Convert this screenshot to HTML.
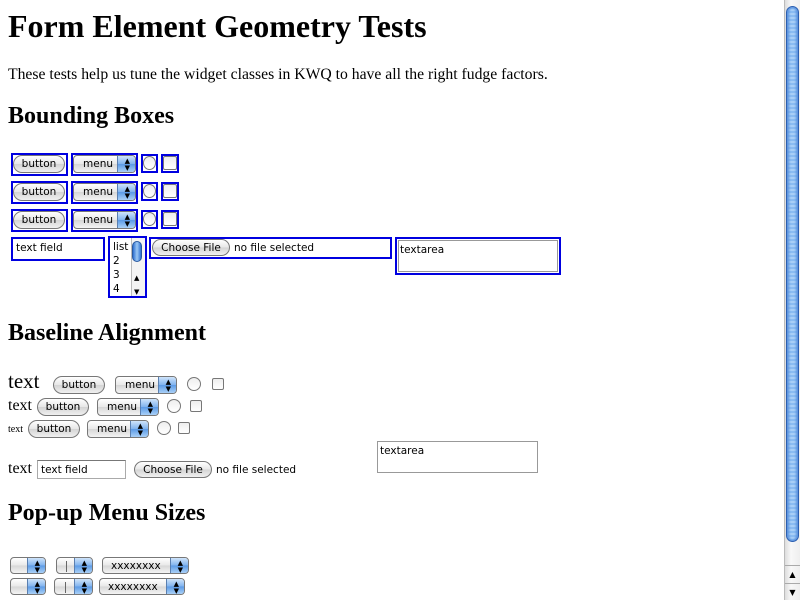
<!DOCTYPE html><html><head><style>
body{margin:0;width:800px;height:600px;background:#fff;position:relative;overflow:hidden;font-family:"Liberation Serif",serif}
.a{position:absolute}
.t{font-family:"DejaVu Sans",sans-serif;font-size:10.5px;color:#000;white-space:nowrap}
.btn{position:absolute;box-sizing:border-box;border:1px solid #777;border-radius:9px;background:linear-gradient(#fff,#e6e6e6 50%,#d4d4d4 51%,#f0f0f0);font-family:"DejaVu Sans",sans-serif;font-size:10.5px;text-align:center;line-height:17px}
.menu{position:absolute;box-sizing:border-box;border:1px solid #777;border-radius:4px;background:linear-gradient(#fff,#e8e8e8 50%,#d6d6d6 51%,#f4f4f4);font-family:"DejaVu Sans",sans-serif;font-size:10.5px;line-height:17px;padding-left:9px;overflow:hidden}
.menu:after{content:"";position:absolute;right:0;top:0;bottom:0;width:17px;background:linear-gradient(#cfe4fb,#7fb2ee 50%,#5b9ae6 51%,#a9d0f7);border-left:1px solid #5a7fb0}
.menu b{position:absolute;right:5px;top:-1px;font-size:7px;line-height:7px;z-index:2;font-weight:normal;padding-top:3px}
.rad{position:absolute;box-sizing:border-box;border:1px solid #777;border-radius:50%;background:linear-gradient(#eee,#fff)}
.chk{position:absolute;box-sizing:border-box;border:1px solid #777;border-radius:2px;background:linear-gradient(#eee,#fff)}
.bb{position:absolute;box-sizing:border-box;border:2px solid #0000e0}
h1{position:absolute;margin:0;font-size:32px;font-weight:bold}
h2{position:absolute;margin:0;font-size:24px;font-weight:bold}
</style></head><body>
<h1 style="left:8px;top:8px">Form Element Geometry Tests</h1>
<div class="a" style="left:8px;top:66px;font-size:15.7px">These tests help us tune the widget classes in KWQ to have all the right fudge factors.</div>
<h2 style="left:8px;top:103px">Bounding Boxes</h2>

<div class="bb" style="left:11px;top:153px;width:57px;height:23px"></div><div class="btn" style="left:13px;top:155px;width:52px;height:18px;line-height:17px">button</div>
<div class="bb" style="left:71px;top:153px;width:67px;height:23px"></div><div class="menu" style="left:73px;top:155px;width:63px;height:18px">menu<b>▲<br>▼</b></div>
<div class="bb" style="left:141px;top:154px;width:17px;height:19px"></div><div class="rad" style="left:143px;top:156px;width:13px;height:14px"></div>
<div class="bb" style="left:161px;top:154px;width:18px;height:19px"></div><div class="chk" style="left:163px;top:156px;width:14px;height:14px"></div>

<div class="bb" style="left:11px;top:181px;width:57px;height:23px"></div><div class="btn" style="left:13px;top:183px;width:52px;height:18px">button</div>
<div class="bb" style="left:71px;top:181px;width:67px;height:23px"></div><div class="menu" style="left:73px;top:183px;width:63px;height:18px">menu<b>▲<br>▼</b></div>
<div class="bb" style="left:141px;top:182px;width:17px;height:19px"></div><div class="rad" style="left:143px;top:184px;width:13px;height:14px"></div>
<div class="bb" style="left:161px;top:182px;width:18px;height:19px"></div><div class="chk" style="left:163px;top:184px;width:14px;height:14px"></div>

<div class="bb" style="left:11px;top:209px;width:57px;height:23px"></div><div class="btn" style="left:13px;top:211px;width:52px;height:18px">button</div>
<div class="bb" style="left:71px;top:209px;width:67px;height:23px"></div><div class="menu" style="left:73px;top:211px;width:63px;height:18px">menu<b>▲<br>▼</b></div>
<div class="bb" style="left:141px;top:210px;width:17px;height:19px"></div><div class="rad" style="left:143px;top:212px;width:13px;height:14px"></div>
<div class="bb" style="left:161px;top:210px;width:18px;height:19px"></div><div class="chk" style="left:163px;top:212px;width:14px;height:14px"></div>

<div class="bb" style="left:11px;top:237px;width:94px;height:24px"></div><div class="a t" style="left:16px;top:242px">text field</div>
<div class="bb" style="left:108px;top:236px;width:39px;height:62px"></div>
<div class="a t" style="left:113px;top:240px;line-height:14px">list<br>2<br>3<br>4</div>
<div class="a" style="left:131px;top:238px;width:13px;height:58px;border-left:1px solid #bbb;background:#f4f4f4"></div>
<div class="a" style="left:132px;top:241px;width:10px;height:21px;border-radius:5px;background:linear-gradient(90deg,#2d6fd0,#9cc8f5,#2d6fd0);border:1px solid #2a5aa0;box-sizing:border-box"></div>
<div class="a" style="left:134px;top:271px;font-size:7px;line-height:14px;font-family:'DejaVu Sans'">▲<br>▼</div>
<div class="bb" style="left:149px;top:237px;width:243px;height:22px"></div>
<div class="btn" style="left:152px;top:239px;width:78px;height:17px;line-height:16px">Choose File</div>
<div class="a t" style="left:234px;top:242px">no file selected</div>
<div class="bb" style="left:395px;top:237px;width:166px;height:38px"></div>
<div class="a" style="left:398px;top:240px;width:160px;height:32px;border:1px solid #999;box-sizing:border-box"></div>
<div class="a t" style="left:400px;top:244px">textarea</div>

<h2 style="left:8px;top:320px">Baseline Alignment</h2>
<div class="a" style="left:8px;top:369px;font-size:21px">text</div>
<div class="btn" style="left:53px;top:376px;width:52px;height:18px">button</div>
<div class="menu" style="left:115px;top:376px;width:62px;height:18px">menu<b>▲<br>▼</b></div>
<div class="rad" style="left:187px;top:377px;width:14px;height:14px"></div>
<div class="chk" style="left:212px;top:378px;width:12px;height:12px"></div>

<div class="a" style="left:8px;top:397px;font-size:16px">text</div>
<div class="btn" style="left:37px;top:398px;width:52px;height:18px">button</div>
<div class="menu" style="left:97px;top:398px;width:62px;height:18px">menu<b>▲<br>▼</b></div>
<div class="rad" style="left:167px;top:399px;width:14px;height:14px"></div>
<div class="chk" style="left:190px;top:400px;width:12px;height:12px"></div>

<div class="a" style="left:8px;top:424px;font-size:10px">text</div>
<div class="btn" style="left:28px;top:420px;width:52px;height:18px">button</div>
<div class="menu" style="left:87px;top:420px;width:62px;height:18px">menu<b>▲<br>▼</b></div>
<div class="rad" style="left:157px;top:421px;width:14px;height:14px"></div>
<div class="chk" style="left:178px;top:422px;width:12px;height:12px"></div>

<div class="a" style="left:377px;top:441px;width:161px;height:32px;border:1px solid #999;box-sizing:border-box"></div>
<div class="a t" style="left:380px;top:445px">textarea</div>
<div class="a" style="left:8px;top:460px;font-size:16px">text</div>
<div class="a" style="left:37px;top:460px;width:89px;height:19px;border:1px solid #aaa;border-top-color:#777;box-sizing:border-box"></div>
<div class="a t" style="left:41px;top:464px">text field</div>
<div class="btn" style="left:134px;top:461px;width:78px;height:17px;line-height:16px">Choose File</div>
<div class="a t" style="left:216px;top:464px">no file selected</div>

<h2 style="left:8px;top:500px">Pop-up Menu Sizes</h2>
<div class="menu" style="left:10px;top:557px;width:36px;height:17px"><b>▲<br>▼</b></div>
<div class="menu" style="left:56px;top:557px;width:37px;height:17px"><span style="position:absolute;left:9px;top:3px;width:1px;height:11px;background:#666"></span><b>▲<br>▼</b></div>
<div class="menu" style="left:102px;top:557px;width:87px;height:17px;padding-left:8px;line-height:16px">xxxxxxxx<b>▲<br>▼</b></div>
<div class="menu" style="left:10px;top:578px;width:36px;height:17px"><b>▲<br>▼</b></div>
<div class="menu" style="left:54px;top:578px;width:39px;height:17px"><span style="position:absolute;left:10px;top:3px;width:1px;height:11px;background:#666"></span><b>▲<br>▼</b></div>
<div class="menu" style="left:99px;top:578px;width:86px;height:17px;padding-left:8px;line-height:16px">xxxxxxxx<b>▲<br>▼</b></div>

<div class="a" style="left:784px;top:0;width:16px;height:600px;background:linear-gradient(90deg,#ddd,#f8f8f8 40%,#eee);border-left:1px solid #bbb;box-sizing:border-box"></div>
<div class="a" style="left:786px;top:6px;width:13px;height:536px;border-radius:7px;background:repeating-linear-gradient(#8bbcf2 0 2px,#a8cff7 2px 4px);border:1px solid #2c5fb0;box-sizing:border-box;box-shadow:inset 2px 0 2px #5a92de, inset -2px 0 2px #5a92de"></div>
<div class="a" style="left:785px;top:565px;width:15px;height:17px;border-top:1px solid #aaa;font-size:8px;text-align:center;line-height:17px;font-family:'DejaVu Sans'">▲</div>
<div class="a" style="left:785px;top:583px;width:15px;height:17px;border-top:1px solid #aaa;font-size:8px;text-align:center;line-height:17px;font-family:'DejaVu Sans'">▼</div>
</body></html>
